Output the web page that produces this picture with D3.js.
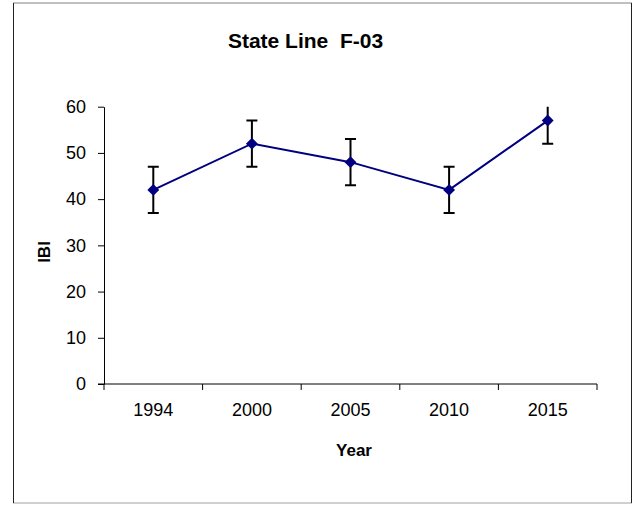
<!DOCTYPE html>
<html><head><meta charset="utf-8">
<script src="https://cdn.jsdelivr.net/npm/d3@7"></script>
<style>body{margin:0;background:#fff;} svg{display:block;font-family:"Liberation Sans",Arial,sans-serif;}</style>
</head><body>
<svg id="c" width="634" height="505"></svg>
<script>
const years = ["1994","2000","2005","2010","2015"];
const ibi = [42, 52, 48, 42, 57];
const errLow = [37, 47, 43, 37, 52];
const errHigh = [47, 57, 53, 47, 62];
const yTicks = [0,10,20,30,40,50,60];
const titleText = "State Line  F-03";
const xTitle = "Year";
const yTitle = "IBI";

const svg = d3.select("#c");
const L = 104, R = 597, T = 106.7, B = 384;

// frame
svg.append("line").attr("x1",13).attr("x2",632).attr("y1",3).attr("y2",3).attr("stroke","#808080");
svg.append("line").attr("x1",13).attr("x2",632).attr("y1",503).attr("y2",503).attr("stroke","#a0a0a0");
svg.append("line").attr("x1",13.5).attr("x2",13.5).attr("y1",3).attr("y2",503).attr("stroke","#222");
svg.append("line").attr("x1",631.5).attr("x2",631.5).attr("y1",3).attr("y2",503).attr("stroke","#222");

const x = d3.scaleBand().domain(years).range([L, R]).padding(0);
const y = d3.scaleLinear().domain([0, 60]).range([B, T]);

// y axis
const ya = svg.append("g").attr("transform", `translate(${L},0)`)
  .call(d3.axisLeft(y).tickValues(yTicks).tickSize(6).tickPadding(12).tickSizeOuter(0));
ya.selectAll("text").attr("font-size", 18).attr("fill", "#000").attr("font-family","Liberation Sans, Arial, sans-serif");
ya.selectAll("line,path").attr("stroke", "#000");

// x axis
const xa = svg.append("g").attr("transform", `translate(0,${B})`)
  .call(d3.axisBottom(x).tickSize(0).tickPadding(19).tickSizeOuter(0));
xa.selectAll("text").attr("font-size", 18).attr("fill", "#000").attr("font-family","Liberation Sans, Arial, sans-serif");
xa.select(".domain").attr("stroke", "#000").attr("d", `M${L-6},0H${R}`);
const bounds = years.map(d => x(d)).concat([x(years[years.length-1]) + x.bandwidth()]);
xa.selectAll(".bt").data(bounds).join("line").attr("class","bt")
  .attr("x1", d => d).attr("x2", d => d).attr("y1", 0).attr("y2", 6).attr("stroke", "#000");

// clip
svg.append("clipPath").attr("id","pc").append("rect").attr("x",L).attr("y",T).attr("width",R-L).attr("height",B-T);
const g = svg.append("g").attr("clip-path","url(#pc)");
const cx = d => x(d) + x.bandwidth()/2;

// error bars
years.forEach((yr, i) => {
  g.append("line").attr("x1", cx(yr)).attr("x2", cx(yr)).attr("y1", y(errLow[i])).attr("y2", y(errHigh[i])).attr("stroke","#000").attr("stroke-width",2);
  [errLow[i], errHigh[i]].forEach(v => {
    g.append("line").attr("x1", cx(yr)-5.5).attr("x2", cx(yr)+5.5).attr("y1", y(v)).attr("y2", y(v)).attr("stroke","#000").attr("stroke-width",2);
  });
});

// line
const line = d3.line().x((d,i) => cx(years[i])).y(d => y(d));
g.append("path").datum(ibi).attr("d", line).attr("fill","none").attr("stroke","#000080").attr("stroke-width",2);

// markers
g.selectAll(".m").data(ibi).join("path").attr("class","m")
  .attr("transform", (d,i) => `translate(${cx(years[i])},${y(d)})`)
  .attr("d", d3.symbol().type(d3.symbolDiamond2).size(90))
  .attr("fill","#000080");

// titles
svg.append("text").attr("x", 305.5).attr("y", 48).attr("text-anchor","middle")
  .attr("font-size", 21).attr("font-weight","bold").attr("fill","#000").attr("xml:space","preserve").style("white-space","pre").text(titleText);
svg.append("text").attr("x", 354).attr("y", 456).attr("text-anchor","middle")
  .attr("font-size", 17).attr("font-weight","bold").attr("fill","#000").text(xTitle);
svg.append("text").attr("transform", "translate(50,252) rotate(-90)").attr("text-anchor","middle")
  .attr("font-size", 17).attr("font-weight","bold").attr("fill","#000").text(yTitle);
</script>
</body></html>
